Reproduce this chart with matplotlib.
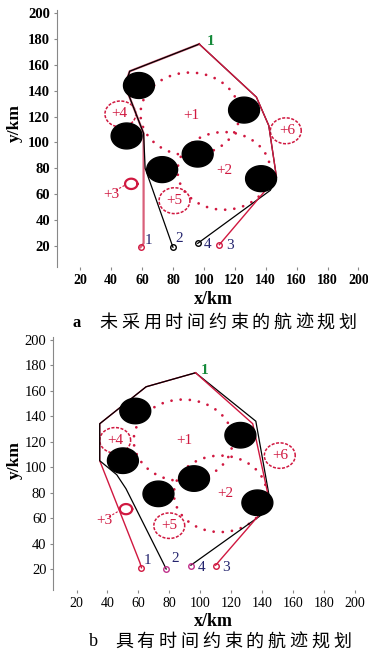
import numpy as np
import matplotlib.pyplot as plt

# obstacles (same in both panels), radius in km
obstacles = [(58, 144), (126, 125), (50, 105), (96, 91), (73, 79), (137, 72)]
obs_r = 10

# target areas: name -> (x, y, r)
targets_a = {"+1": (91, 122, 32), "+2": (113, 78, 30), "+3": (53, 68, 4),
             "+4": (46, 122, 10), "+5": (81, 55, 10), "+6": (153, 109, 10)}
targets_b = {"+1": (89, 121, 32), "+2": (113, 79, 30), "+3": (52, 67, 4),
             "+4": (45, 121, 10), "+5": (80, 54, 10), "+6": (151.5, 109, 10)}
label_pos_a = {"+1": (92, 121), "+2": (113, 78), "+3": (40, 60),
               "+4": (45, 122), "+5": (81, 55), "+6": (154, 109)}
label_pos_b = {"+1": (90, 121), "+2": (116, 79), "+3": (38, 58),
               "+4": (45, 121), "+5": (80, 54), "+6": (152, 109)}

# flight paths (x list, y list)
a1_x = [59, 61, 61, 49, 52, 97];       a1_y = [19, 22, 107, 144, 155, 176]
a2_x = [80, 62, 61, 49, 52, 97];       a2_y = [19, 80, 107, 144, 155, 176]
a4_x = [96, 143, 147, 142, 134, 97];   a4_y = [22, 63, 73, 113, 135, 176]
a3_x = [110, 147, 142, 134, 97];       a3_y = [21, 73, 113, 135, 176]

b1_x = [62, 61, 35, 35, 65, 97];               b1_y = [21, 25, 105, 134, 163, 174]
b2_x = [78, 76, 52, 46, 35, 35, 65, 97];       b2_y = [20, 25, 83, 94, 105, 134, 163, 174]
b4_x = [94, 146, 136, 97];                     b4_y = [23, 68, 136, 174]
b3_x = [110, 145, 134, 97];                    b3_y = [23, 72, 134, 174]

starts_a = {"1": (59, 19), "2": (80, 19), "4": (96, 22), "3": (110, 21)}
starts_b = {"1": (62, 21), "2": (78, 20), "4": (94, 22), "3": (110, 22.5)}
start_lbl_a = {"1": (64, 24), "2": (84, 26), "4": (102.5, 21), "3": (117, 20)}
start_lbl_b = {"1": (66, 26.5), "2": (84, 28), "4": (101, 21), "3": (117, 21)}

ticks = [20, 40, 60, 80, 100, 120, 140, 160, 180, 200]

RED = "#d01840"
NAVY = "#24246e"
GREEN = "#158a3a"
SERIF = "Liberation Serif"

fig = plt.figure(figsize=[3.68, 6.52], dpi=100)


def circle(ax, x, y, r, **kw):
    t = np.linspace(0, 2 * np.pi, 200)
    ax.plot(x + r * np.cos(t), y + r * np.sin(t), **kw)


def panel(rect, targets, lbl_pos, paths, starts, start_cols, start_lbls, target_lbl, bold):
    ax = fig.add_axes(rect)
    ax.set_xlim(5, 205)
    ax.set_ylim(3.5, 202)
    for s in ["top", "right", "bottom"]:
        ax.spines[s].set_visible(False)
    ax.spines["left"].set_color("#888888")
    ax.set_xticks(ticks)
    ax.set_yticks(ticks)
    ax.tick_params(length=2, color="#888888", pad=3)
    w = "bold" if bold else "normal"
    for lab in ax.get_xticklabels():
        lab.set_fontfamily(SERIF); lab.set_fontsize(10); lab.set_fontweight(w)
    for lab in ax.get_yticklabels():
        lab.set_fontfamily(SERIF); lab.set_fontsize(10.5); lab.set_fontweight(w)

    # target areas
    for name, (x, y, r) in targets.items():
        if r >= 20:
            circle(ax, x, y, r, color=RED, lw=2.0, ls=(0, (0.01, 3.3)),
                   dash_capstyle="round", zorder=1)
        elif r < 5:
            circle(ax, x, y, r, color=RED, lw=1.6, zorder=1)
        else:
            circle(ax, x, y, r, color=RED, lw=1.1, ls=(0, (2, 1)), zorder=1)
        lx, ly = lbl_pos[name]
        ax.text(lx, ly, name, color=RED, fontsize=11, family=SERIF,
                ha="center", va="center", zorder=4)
    # leader for +3
    tx, ty, tr = targets["+3"]
    lx, ly = lbl_pos["+3"]
    ax.plot([lx + 3, tx - tr], [ly + 3, ty - 1], color=RED, lw=0.8,
            ls=(0, (2, 1.5)), zorder=1)

    # obstacles
    for (x, y) in obstacles:
        t = np.linspace(0, 2 * np.pi, 100)
        ax.fill(x + obs_r * np.cos(t), y + obs_r * np.sin(t), color="black", zorder=3)

    # paths
    for (px, py, c, lw) in paths:
        ax.plot(px, py, color=c, lw=lw, zorder=2)

    for k, (x, y) in starts.items():
        ax.plot(x, y, "o", ms=4, mfc="none", mec=start_cols[k], mew=1, zorder=5)
        lx, ly = start_lbls[k]
        ax.text(lx, ly, k, color=NAVY, fontsize=11, family=SERIF,
                ha="center", va="center")
    ax.text(target_lbl[0], target_lbl[1], "1", color=GREEN, fontsize=11,
            family=SERIF, fontweight="bold", ha="center", va="center")
    return ax


panel([0.155, 0.590, 0.840, 0.394], targets_a, label_pos_a,
      [(a1_x, a1_y, "#d9607a", 1.6), (a2_x, a2_y, "black", 0.9),
       (a4_x, a4_y, "black", 0.9), (a3_x, a3_y, RED, 1.0)],
      starts_a, {"1": RED, "2": "black", "4": "black", "3": RED},
      start_lbl_a, (104.5, 178), True)

panel([0.145, 0.095, 0.840, 0.388], targets_b, label_pos_b,
      [(b1_x, b1_y, RED, 1.0), (b2_x, b2_y, "black", 0.9),
       (b4_x, b4_y, "black", 0.9), (b3_x, b3_y, RED, 1.0)],
      starts_b, {"1": RED, "2": "#c0308a", "4": "#c0308a", "3": RED},
      start_lbl_b, (103, 176), False)

# axis labels
for yc in [0.811, 0.294]:
    fig.text(0.040, yc, "y/km", rotation=90, fontsize=12.5, fontweight="bold",
             family=SERIF, ha="center", va="center")
for yc in [0.540, 0.047]:
    fig.text(0.579, yc, "x/km", fontsize=13, fontweight="bold",
             family=SERIF, ha="center", va="center")

# captions (characters spaced out like the scan)
cap_a = "未采用时间约束的航迹规划"
cap_b = "具有时间约束的航迹规划"
fig.text(77 / 368, 0.505, "a", fontsize=12, fontweight="bold", family=SERIF,
         ha="center", va="center")
for i, ch in enumerate(cap_a):
    fig.text((98 + 10.8 + 21.7 * i) / 368, 0.505, ch, fontsize=13,
             family="Noto Sans CJK SC", ha="center", va="center")
fig.text(93 / 368, 0.016, "b", fontsize=13, family=SERIF,
         ha="center", va="center")
for i, ch in enumerate(cap_b):
    fig.text((113 + 10.9 + 21.8 * i) / 368, 0.016, ch, fontsize=13,
             family="Noto Sans CJK SC", ha="center", va="center")

plt.savefig("out.png", dpi=100)
